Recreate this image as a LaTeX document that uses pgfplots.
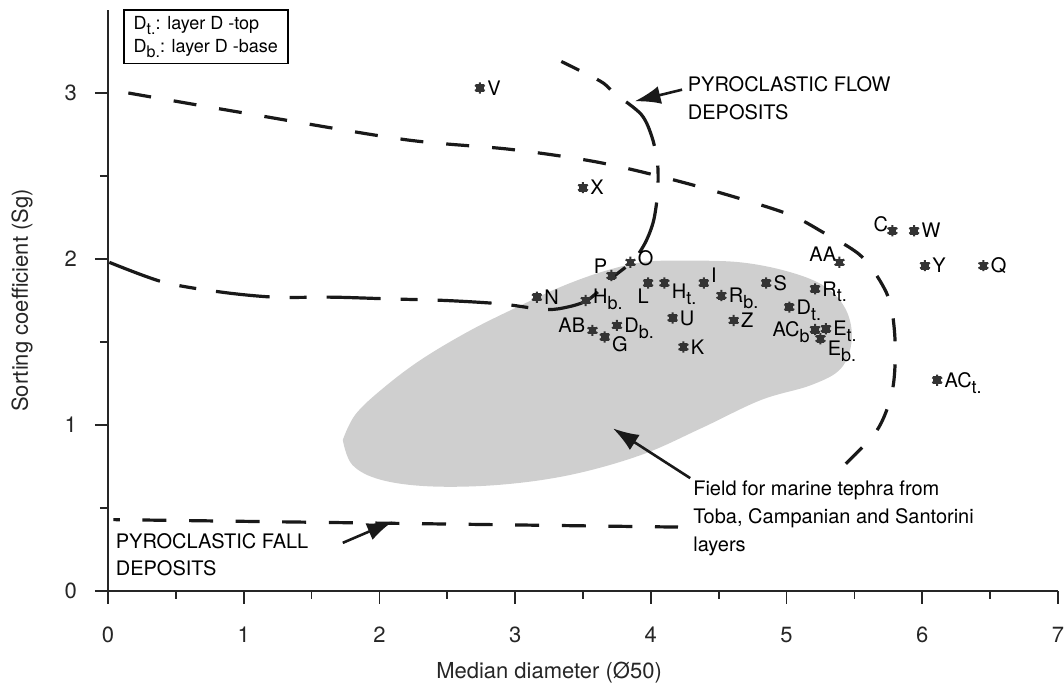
\documentclass[border=0pt]{standalone}
\usepackage{fontspec}
\setmainfont{TeX Gyre Heros}
\usepackage{pgfplots}
\pgfplotsset{compat=1.18}
\usetikzlibrary{arrows.meta}
\newcommand{\sub}[1]{\raisebox{-0.55ex}{\fontsize{9}{9}\selectfont #1}}
\begin{document}
\begin{tikzpicture}[font=\fontsize{10}{12}\selectfont,
  lr/.style={anchor=base west, xshift=3.5pt, yshift=-3.6pt, inner sep=0pt},
  ll/.style={anchor=base east, xshift=-3.5pt, yshift=-3.6pt, inner sep=0pt}]
\useasboundingbox (-54pt,-49pt) rectangle (478pt,295.5pt);
\begin{axis}[
  scale only axis, width=475pt, height=290.5pt,
  xmin=0, xmax=7, ymin=0, ymax=3.5,
  axis x line=bottom, axis y line=left,
  axis line style={-, line width=1pt, black!85},
  xtick={0,...,7}, ytick={0,1,2,3},
  minor x tick num=1, minor y tick num=1,
  tick align=outside, major tick length=6.5pt, minor tick length=4pt,
  every tick/.style={line width=0.9pt, black!85},
  /pgf/number format/assume math mode=true,
  ticklabel style={font=\fontsize{11}{13}\selectfont, black!85},
  xticklabel style={yshift=-8pt},
  yticklabel style={xshift=-5.5pt},
  clip=false,
]
% shaded field
\addplot[fill=gray!38, draw=none, smooth, tension=0.6] coordinates {
(1.73,0.91) (1.80,0.76) (2.01,0.67) (2.38,0.63) (2.89,0.64) (3.41,0.70)
(3.93,0.82) (4.37,0.98) (4.81,1.15) (5.18,1.24) (5.40,1.34) (5.48,1.51)
(5.44,1.69) (5.29,1.83) (5.03,1.92) (4.66,1.98) (4.22,1.99) (3.93,1.98)
(3.63,1.92) (3.33,1.83) (3.04,1.72) (2.67,1.57) (2.30,1.39) (2.01,1.21)
(1.82,1.06) (1.73,0.91)};
% outer flow boundary
\addplot[black!90, line width=1.6pt, dash pattern=on 11.5pt off 11.5pt, smooth, tension=0.5] coordinates {
(0.15,3.00) (1.0,2.88) (2.18,2.72) (2.97,2.66) (3.63,2.58) (4.29,2.45)
(4.98,2.28) (5.27,2.16) (5.56,2.01) (5.75,1.77) (5.80,1.50) (5.78,1.21)
(5.66,0.96) (5.35,0.70)};
% inner flow boundary
\addplot[black!90, line width=1.6pt, dash pattern=on 27pt off 10pt on 8.5pt off 10pt, smooth, tension=0.5] coordinates {
(0.01,1.98) (0.41,1.86) (0.84,1.80) (1.23,1.77) (1.66,1.77) (2.06,1.76)
(2.49,1.75) (2.89,1.73) (3.17,1.70) (3.32,1.70) (3.53,1.75) (3.72,1.89)
(3.87,1.99) (3.96,2.10) (4.02,2.23) (4.05,2.40) (4.05,2.57) (4.01,2.73)
(3.93,2.87) (3.73,3.00) (3.63,3.07) (3.34,3.19)};
% fall boundary
\addplot[black!90, line width=1.6pt, dash pattern=on 12pt off 11.3pt, dash phase=8.8pt] coordinates {
(0.04,0.43) (4.20,0.385)};
% samples
\addplot[only marks, mark=square*, mark size=1.7pt, black!80] coordinates {
(2.74,3.03) (3.50,2.43) (5.78,2.17) (5.94,2.17) (5.39,1.98) (6.02,1.96)
(6.45,1.96) (6.11,1.27) (3.85,1.98) (3.71,1.90) (3.16,1.77) (3.52,1.75)
(3.98,1.855) (4.10,1.855) (4.39,1.855) (4.52,1.78) (4.85,1.855) (5.21,1.82)
(5.02,1.71) (4.16,1.645) (4.61,1.63) (4.24,1.47) (3.75,1.60) (3.57,1.57)
(3.66,1.53) (5.21,1.575) (5.29,1.58) (5.25,1.52)};
\addplot[only marks, mark=asterisk, mark size=2.8pt, line width=1pt, black!80] coordinates {
(2.74,3.03) (3.50,2.43) (5.78,2.17) (5.94,2.17) (5.39,1.98) (6.02,1.96)
(6.45,1.96) (6.11,1.27) (3.85,1.98) (3.71,1.90) (3.16,1.77) (3.52,1.75)
(3.98,1.855) (4.10,1.855) (4.39,1.855) (4.52,1.78) (4.85,1.855) (5.21,1.82)
(5.02,1.71) (4.16,1.645) (4.61,1.63) (4.24,1.47) (3.75,1.60) (3.57,1.57)
(3.66,1.53) (5.21,1.575) (5.29,1.58) (5.25,1.52)};
% point labels
\node[lr] at (axis cs:2.74,3.03) {V};
\node[lr] at (axis cs:3.50,2.43) {X};
\node[ll, xshift=1.5pt, yshift=3pt] at (axis cs:5.78,2.17) {C};
\node[lr] at (axis cs:5.94,2.17) {W};
\node[ll, xshift=2pt, yshift=4pt] at (axis cs:5.39,1.98) {AA};
\node[lr] at (axis cs:6.02,1.96) {Y};
\node[lr] at (axis cs:6.45,1.96) {Q};
\node[lr] at (axis cs:6.11,1.27) {AC\sub{t.}};
\node[lr, yshift=2pt] at (axis cs:3.85,1.98) {O};
\node[ll, xshift=1.5pt, yshift=4.5pt] at (axis cs:3.71,1.90) {P};
\node[lr] at (axis cs:3.16,1.77) {N};
\node[lr, yshift=2pt] at (axis cs:3.52,1.75) {H\sub{b.}};
\node[anchor=north, xshift=-2.5pt, yshift=-2.5pt, inner sep=0pt] at (axis cs:3.98,1.855) {L};
\node[lr, yshift=-4pt] at (axis cs:4.10,1.855) {H\sub{t.}};
\node[lr, yshift=4pt] at (axis cs:4.39,1.855) {I};
\node[lr] at (axis cs:4.52,1.78) {R\sub{b.}};
\node[lr] at (axis cs:4.85,1.855) {S};
\node[lr] at (axis cs:5.21,1.82) {R\sub{t.}};
\node[lr] at (axis cs:5.02,1.71) {D\sub{t.}};
\node[lr] at (axis cs:4.16,1.645) {U};
\node[lr] at (axis cs:4.61,1.63) {Z};
\node[lr] at (axis cs:4.24,1.47) {K};
\node[lr] at (axis cs:3.75,1.60) {D\sub{b.}};
\node[ll, yshift=2.5pt] at (axis cs:3.57,1.57) {AB};
\node[lr, yshift=-3.5pt] at (axis cs:3.66,1.53) {G};
\node[ll, xshift=1pt] at (axis cs:5.21,1.575) {AC\sub{b}};
\node[lr] at (axis cs:5.29,1.58) {E\sub{t.}};
\node[lr, yshift=-5pt] at (axis cs:5.25,1.52) {E\sub{b.}};
% annotations
\node[anchor=west, align=left, inner sep=0pt, font=\fontsize{10}{14}\selectfont] at (axis cs:4.27,2.97) {PYROCLASTIC FLOW\\DEPOSITS};
\draw[black!90, line width=1.3pt, -{Latex[length=13pt,width=9pt]}] (axis cs:4.23,3.02) -- (axis cs:3.88,2.95);
\node[anchor=west, align=left, inner sep=0pt, font=\fontsize{10}{13.5}\selectfont] at (axis cs:0.055,0.22) {PYROCLASTIC FALL\\DEPOSITS};
\draw[black!90, line width=1.3pt, -{Latex[length=13pt,width=9pt]}] (axis cs:1.73,0.29) -- (axis cs:2.1,0.42);
\node[anchor=west, align=left, inner sep=0pt, font=\fontsize{10}{14}\selectfont] at (axis cs:4.31,0.44) {Field for marine tephra from\\Toba, Campanian and Santorini\\layers};
\draw[black!90, line width=1.3pt, -{Latex[length=13pt,width=9pt]}] (axis cs:4.29,0.68) -- (axis cs:3.72,0.98);
% key box
\node[draw, line width=0.8pt, anchor=north west, align=left, inner xsep=5pt, inner ysep=3pt, font=\fontsize{9}{11.5}\selectfont] at (axis cs:0.11,3.505) {D\raisebox{-0.55ex}{\fontsize{8}{8}\selectfont t.}: layer D -top\\D\raisebox{-0.55ex}{\fontsize{8}{8}\selectfont b.}: layer D -base};
% axis titles
\node[font=\fontsize{11}{13}\selectfont, black!85] at ([yshift=-41pt]axis cs:3.25,0) {Median diameter (Ø50)};
\node[font=\fontsize{11}{13}\selectfont, black!85, rotate=90] at ([xshift=-43pt]axis cs:0,1.75) {Sorting coefficient (Sg)};
\end{axis}
\end{tikzpicture}
\end{document}
